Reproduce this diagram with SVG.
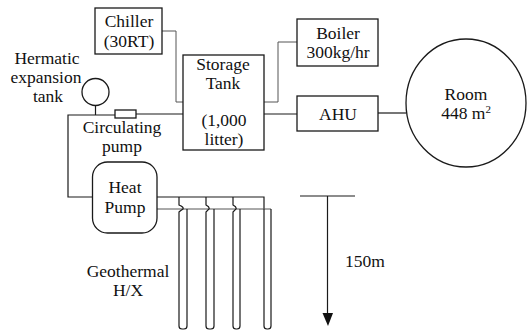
<svg xmlns="http://www.w3.org/2000/svg" width="527" height="330" viewBox="0 0 527 330">
<defs>
<style>
text{font-family:"Liberation Serif","Times New Roman",serif;font-size:17.5px;fill:#111;text-anchor:middle}
.s{fill:#fff;stroke:#1a1a1a;stroke-width:1.3}
.l{fill:none;stroke:#1a1a1a;stroke-width:1.2}
.g{fill:none;stroke:#555;stroke-width:1}
</style>
</defs>
<rect width="527" height="330" fill="#fff"/>
<g id="connectors">
<path class="g" d="M162 31H176V102H183"/>
<path class="g" d="M297 42H278V102H264"/>
<path class="l" d="M264 114H297"/>
<path class="l" d="M378 113H406"/>
<path class="l" d="M95.500 105V115"/>
<path class="l" d="M92 197H68V115H115"/>
<path class="l" d="M136 114H183"/>
<path class="l" d="M157 197H264V209"/>
<path class="g" d="M157 209H271"/>
<path class="l" d="M179 197V205Q184 207 183 209Q180 211 179 212V326Q179 329 182 329H184Q187 329 187 326V209"/>
<path class="l" d="M206 197V205Q210 207 209 209Q207 211 206 212V326Q206 329 209 329H211Q214 329 214 326V209"/>
<path class="l" d="M233 197V205Q237 207 236 209Q234 211 233 212V326Q233 329 236 329H237Q240 329 240 326V209"/>
<path class="l" d="M264 209V326Q264 329 267 329H268Q271 329 271 326V209"/>
<path class="l" d="M300 196H355"/>
<path class="l" d="M327.500 196V315"/>
<polygon points="322.500,313 333,313 328,326" fill="#111"/>
</g>
<g id="chiller"><rect class="s" x="95" y="8" width="67" height="46"/><text x="129" y="27">Chiller</text><text x="129" y="47">(30RT)</text></g>
<g id="storage-tank"><rect class="s" x="183" y="55" width="81" height="95"/><text x="223" y="70">Storage</text><text x="223" y="89">Tank</text><text x="224" y="126">(1,000</text><text x="224" y="145">litter)</text></g>
<g id="boiler"><rect class="s" x="297" y="19" width="81" height="47"/><text x="338" y="39">Boiler</text><text x="338" y="58">300kg/hr</text></g>
<g id="ahu"><rect class="s" x="297" y="96" width="81" height="35"/><text x="338" y="120">AHU</text></g>
<g id="room"><ellipse class="s" cx="466" cy="103" rx="60" ry="64"/><text x="466" y="100">Room</text><text x="466" y="119">448 m<tspan font-size="11" dy="-6">2</tspan></text></g>
<g id="expansion-tank"><circle class="s" cx="95.500" cy="92" r="13.500"/><text x="47" y="64">Hermatic</text><text x="46" y="83">expansion</text><text x="48" y="102">tank</text></g>
<g id="circulating-pump"><rect class="s" x="115" y="110" width="21" height="8"/><text x="122" y="133">Circulating</text><text x="122" y="152">pump</text></g>
<g id="heat-pump"><rect class="s" x="92.500" y="162" width="64.500" height="71" rx="15"/><text x="125" y="193">Heat</text><text x="125" y="213">Pump</text></g>
<g id="geothermal"><text x="128" y="277">Geothermal</text><text x="128" y="296">H/X</text></g>
<g id="depth"><text x="365" y="267">150m</text></g>
</svg>
